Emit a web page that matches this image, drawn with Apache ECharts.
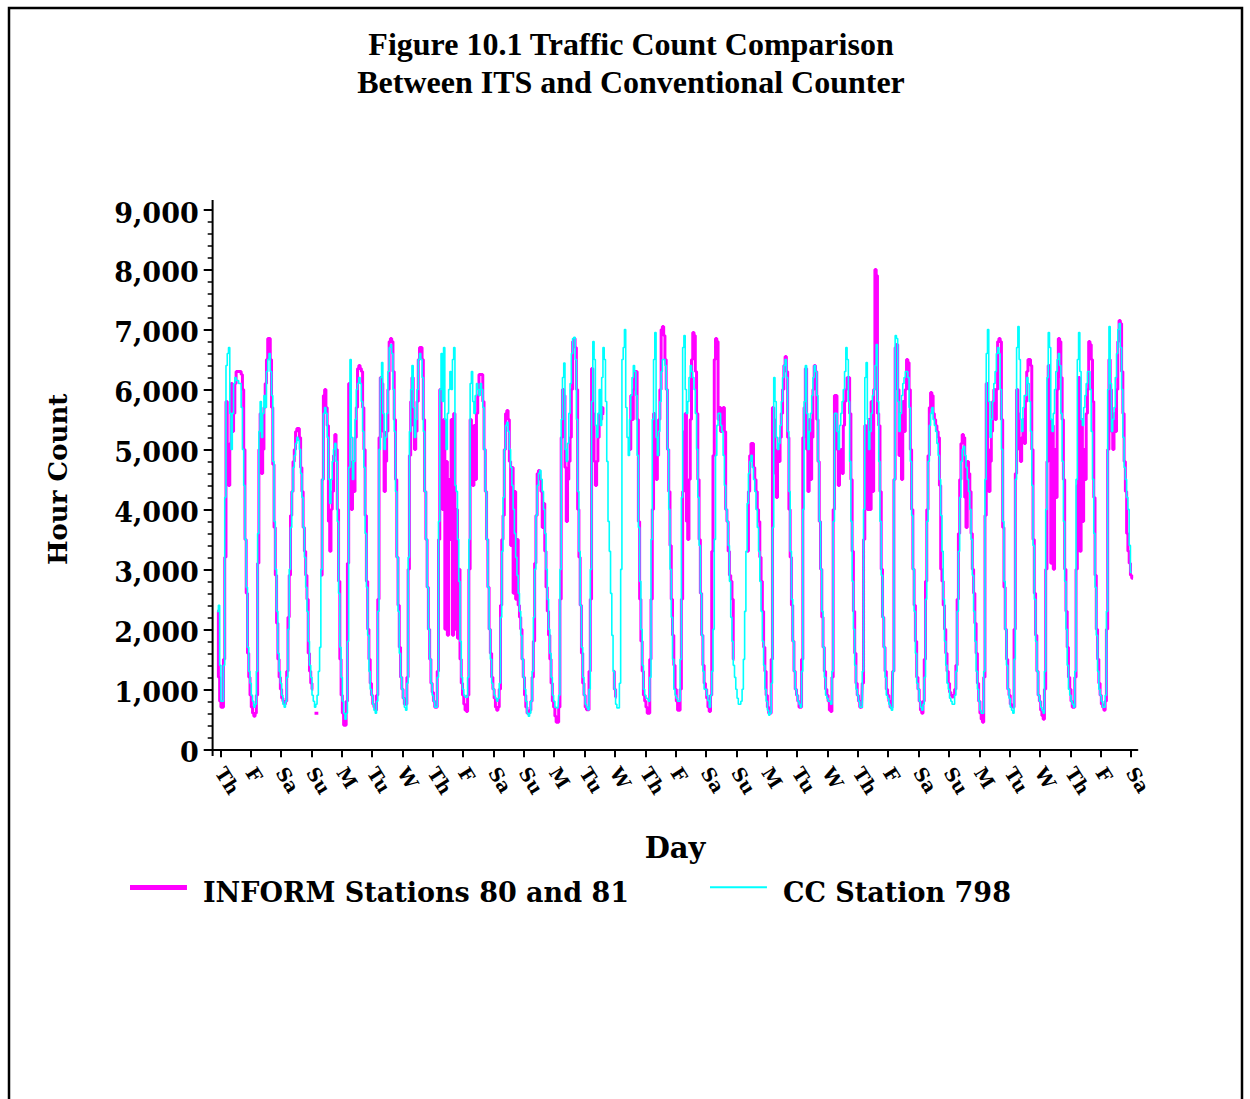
<!DOCTYPE html>
<html>
<head>
<meta charset="utf-8">
<script src="https://cdn.jsdelivr.net/npm/echarts@6/dist/echarts.min.js"></script>
<style>
  html, body { margin: 0; padding: 0; background: #ffffff; }
  #chart { width: 1250px; height: 1099px; }
</style>
</head>
<body>
<div id="chart"></div>
<script>
// Day-of-week labels at each midnight tick (30 days + closing Saturday)
const dayLabels = ['Th','F','Sa','Su','M','Tu','W','Th','F','Sa','Su','M','Tu','W',
                   'Th','F','Sa','Su','M','Tu','W','Th','F','Sa','Su','M','Tu','W','Th','F','Sa'];

// Axis begins 6 hours before the first midnight; the counts begin 2 hours before it
const leadHours = 6;
const leadInform = [2300, 1200];
const leadCC = [2300, 2400];

// Hourly counts, one row of 24 hours per day — INFORM Stations 80 and 81
const informByDay = [
  [800,700,700,1500,3200,5800,4800,4400,5100,6100,5300,5600,6100,6300,6300,6300,6300,6250,6000,5000,3500,2600,1600,1200],
  [900,700,600,550,600,900,3100,5000,5600,4600,5000,5700,6100,6500,6850,6850,6500,5700,4750,3700,2900,2100,1500,1200],
  [1000,850,800,750,800,1300,2200,2900,3900,4300,4800,5000,5300,5350,5350,5200,4700,4300,3700,3300,2900,2500,1600,1300],
  [1100,1000,null,600,600,600,null,null,2900,4500,5900,6000,5700,5400,3800,3300,4000,4300,4900,5250,5000,4000,2800,1500],
  [900,600,400,400,800,3100,6100,4500,4000,4800,4300,5200,5700,6350,6400,6350,6300,5700,5000,3900,2800,2000,1500,1100],
  [900,750,700,650,900,2500,5200,6200,6100,5300,4300,4800,5300,6000,6800,6850,6800,6300,5500,4500,3200,2400,1700,1200],
  [1000,850,750,750,1200,3000,4900,5800,6200,5400,5000,5300,5800,6500,6700,6700,6500,5500,4300,3500,2700,2000,1500,1100],
  [950,800,700,700,1300,3500,6000,5000,4000,5500,2000,4800,1900,4500,3500,5500,1900,5600,2000,4000,1850,3000,1500,1100],
  [900,750,650,630,900,3000,5500,5000,4400,5400,4500,5600,5900,6250,6250,6250,5800,5000,4300,3500,2700,2000,1600,1200],
  [1000,850,700,650,700,1000,2400,3500,3900,5000,5600,5650,5500,4800,3400,4700,2600,4300,2500,3500,2400,2200,2000,1500],
  [1200,900,700,600,600,650,800,1200,1800,3100,3900,4600,4650,4500,4300,3700,4100,3300,2700,2300,1900,1500,1100,800],
  [700,550,450,450,700,2500,5200,6000,5900,4700,3800,4500,4800,5200,6000,6800,6850,6700,6000,4000,3200,2400,1600,1100],
  [900,700,660,660,1300,2500,6350,5600,4800,4400,4800,5200,5600,5500,5700,5600,null,null,null,null,null,null,null,1300],
  [1000,870,null,null,null,null,null,null,null,null,null,null,5000,5900,5500,6000,6300,6300,5500,3800,2500,1800,1300,900],
  [800,700,600,600,1500,2500,4000,5600,5200,4500,4900,5500,6000,7000,7050,6900,6500,6000,5000,4300,3400,2500,1900,1400],
  [1000,800,650,650,1000,2500,4300,5300,5600,3800,3500,4500,5500,6500,6950,6900,6300,5600,4500,3500,2600,1900,1400,1100],
  [1000,850,700,630,900,3300,4900,6500,6850,6800,5500,5700,5300,5600,5700,5300,4000,3800,3300,2900,2800,2500,1500,null],
  [null,null,null,null,null,null,null,null,null,3300,4300,4900,5100,5100,4700,4500,4300,4000,3800,3200,2800,2300,1700,1300],
  [900,700,600,600,1500,5700,5500,4600,4200,5000,4800,5200,5600,6000,6400,6550,6300,5200,4000,3200,2400,1800,1300,1000],
  [900,800,700,700,1500,5200,5700,6350,5000,4300,5500,4500,5200,6000,6400,6300,5500,4800,3800,3000,2200,1700,1300,1000],
  [900,800,650,630,1200,4000,5900,5900,5000,4400,4800,5000,4600,5400,5800,6000,6200,6200,5600,4500,3300,2300,1600,1100],
  [900,800,700,690,1100,3500,5400,5000,4000,5500,4000,5800,4300,6000,8000,7900,5600,5400,4300,3000,2200,1700,1300,1000],
  [900,800,700,690,1300,4500,6700,6750,6000,4900,5600,4500,5800,5300,6000,6500,6450,6000,5000,4000,3000,2400,1800,1200],
  [1000,800,650,600,800,1500,2800,4000,4900,5700,5950,5900,5600,5500,5400,5300,5200,4400,3000,2800,2400,2000,1600,1300],
  [1100,950,900,870,900,1000,1400,2500,3600,4500,5100,5250,5200,4200,3700,4800,4600,4300,3600,3000,2600,2100,1600,1100],
  [800,600,500,450,1200,3900,6100,5000,4300,4800,5300,5800,6000,5500,6000,6800,6850,6800,5500,3700,2700,2000,1500,1000],
  [900,750,720,700,2000,4600,6000,5600,5000,4800,5200,5500,5100,5800,6300,6500,6500,6400,5000,3500,2600,1900,1300,900],
  [800,650,560,500,1000,3000,4800,6400,5500,3100,5400,3000,5000,4200,6000,6850,6800,6200,5500,4500,3000,2300,1700,1200],
  [1000,800,700,700,1200,3000,4400,6200,3300,5500,3800,5000,4500,5600,6000,6800,6750,6500,5800,4200,2900,2000,1500,1100],
  [900,750,700,650,800,2000,5000,6500,6000,5300,5000,5600,5300,6000,6800,7150,7100,6300,5600,4800,4300,3600,3300,3100]
];

// Hourly counts, one row of 24 hours per day — CC Station 798
const ccByDay = [
  [1400,800,800,1400,4200,6400,6600,6700,5600,5000,5600,6100,6200,6150,6150,6100,6100,5700,5000,4400,3500,2700,1700,1300],
  [1100,900,800,700,750,1300,3600,5300,5800,5200,5600,5900,5700,6300,6500,6600,6300,5900,4800,3800,3000,2300,1600,1300],
  [1100,900,750,700,800,1200,2000,3000,3700,4300,4700,4900,5100,5200,5150,5000,4600,4200,3700,3200,2700,2300,1800,1400],
  [1200,900,800,700,750,900,1300,1700,3000,4500,5600,5700,5600,5200,4500,4100,4500,4800,5000,5100,4800,3800,2600,1700],
  [1200,800,600,500,600,1800,4700,6500,5200,4500,4800,5500,6000,6100,6200,6100,5800,5300,4700,3600,2700,1900,1300,1000],
  [900,750,650,600,800,2300,5000,6200,6450,5600,5000,5200,5600,6300,6700,6750,6600,6000,5300,4300,3200,2300,1600,1200],
  [1000,850,700,650,1100,3200,5300,6000,6400,5700,5200,5500,6000,6500,6600,6500,6200,5300,4300,3500,2700,2000,1500,1100],
  [900,800,700,700,1200,3800,6000,6600,5800,6700,5500,5000,5600,6000,6300,6000,6500,6700,4400,4300,3500,2800,1800,1200],
  [1000,900,870,870,1200,3500,6100,6300,5800,5600,5900,6100,6000,5900,6100,6000,5700,5000,4300,3500,2700,2000,1500,1100],
  [1000,900,850,800,850,1100,2200,3300,4200,5000,5400,5450,5300,5000,4700,4400,4000,3600,3200,2900,2600,2300,1900,1500],
  [1200,1000,800,600,550,600,800,1300,2200,3000,3900,4400,4600,4650,4500,4300,4000,3600,3000,2500,2000,1600,1200,900],
  [800,700,690,690,900,3000,5500,6200,6440,5000,4800,5100,5600,6100,6600,6850,6870,6500,5500,4300,3300,2400,1700,1200],
  [900,750,700,660,1000,3000,5800,6800,6500,5400,5200,5600,6000,5400,6200,6700,6500,5800,4800,3800,3300,2600,1900,1300],
  [1000,750,690,690,1100,3000,6500,6700,7000,5700,5200,4900,5500,5900,6200,6400,6300,5900,4900,3700,2800,2000,1400,1000],
  [900,850,840,800,1200,3500,5500,6500,6950,5200,4900,5300,5800,6300,6500,6500,6400,6000,5000,4000,3000,2200,1500,1000],
  [900,850,800,800,1500,4200,6700,6900,6000,5600,5800,6200,6400,6300,6200,6000,5600,5000,4200,3400,2600,1900,1300,1000],
  [1000,900,810,700,900,1300,2000,3500,4900,5400,5600,5600,5400,5300,4900,4400,4000,3800,3400,2800,2200,1800,1400,1200],
  [1000,850,750,750,800,1000,1500,2300,3300,4100,4600,4800,4900,4700,4500,4300,4000,3700,3300,2800,2300,1800,1400,1000],
  [800,650,570,600,1100,3700,6200,5800,5200,5000,5100,5400,5800,6200,6400,6500,6200,5300,4300,3300,2500,1800,1300,1000],
  [900,800,750,700,1300,4000,5800,6400,5600,5000,5300,5600,5900,6200,6400,6300,5900,4800,3800,3000,2300,1700,1200,900],
  [850,800,800,750,1300,3800,5600,5600,5300,5000,5400,5600,5800,6000,6300,6700,6500,5800,4800,3800,2800,2000,1400,1000],
  [900,800,700,700,1300,4000,6200,6450,5500,5000,5300,5600,5900,6000,6400,6750,5800,4800,3800,2900,2200,1700,1200,900],
  [850,750,700,650,1300,4500,6900,6850,5800,5300,5600,5900,6100,6200,6300,6300,6200,5700,4800,3900,3000,2300,1600,1100],
  [1000,800,700,650,750,1200,2500,3800,4800,5400,5600,5700,5500,5400,5300,5100,4900,4500,3900,3300,2500,1800,1400,1100],
  [1000,850,800,750,750,900,1300,2300,3300,4200,4800,5000,5050,4900,4700,4500,4300,4000,3500,2900,2300,1800,1300,1000],
  [800,650,600,600,1300,4500,6600,7000,5800,5200,5500,5800,6100,6300,6600,6700,6600,6000,5000,3800,2800,2000,1400,1000],
  [850,700,650,600,1500,4500,6700,7050,6500,5500,5300,5700,5900,5900,6200,6100,5800,5300,4400,3400,2500,1800,1300,900],
  [800,700,650,600,1300,4000,6200,6950,6700,5500,5300,5600,6000,6300,6500,6600,6400,5600,4800,3800,2800,2000,1400,1000],
  [900,800,750,700,1300,4500,6500,6950,6300,5500,5400,5700,5900,6100,6300,6300,6000,5300,4500,3600,2700,1900,1300,1000],
  [900,800,700,700,900,2300,6000,7050,6100,5300,5500,5700,6200,6600,7000,7100,6700,6000,5200,4700,4500,4200,4000,3400]
];

// Counts recorded after the last midnight
const tailInform = [2900, 2850];
const tailCC = [2950];

const totalHours = 732; // axis length in hours

function buildSeries(lead, days, tail) {
  const out = [];
  for (let i = 0; i < leadHours - lead.length; i++) out.push(null);
  lead.forEach(v => out.push(v));
  days.forEach(row => row.forEach(v => out.push(v)));
  tail.forEach(v => out.push(v));
  while (out.length < totalHours) out.push(null);
  return out;
}

const informSeries = buildSeries(leadInform, informByDay, tailInform);
const ccSeries = buildSeries(leadCC, ccByDay, tailCC);

const hourCategories = [];
for (let i = 0; i < totalHours; i++) hourCategories.push(String(i - leadHours));

const isMidnight = (index) => index >= leadHours && (index - leadHours) % 24 === 0;

const serifBold = { fontFamily: 'DejaVu Serif', fontWeight: 'bold', color: '#000' };

// Legend swatches: a bar along the top of the key box, so it sits a little above the text's middle
const informKey = 'path://M0,0h57v5h-57zM0,14h0.01v0.01h-0.01z';
const ccKey = 'path://M0,0h57v2h-57zM0,11.5h0.01v0.01h-0.01z';

const chart = echarts.init(document.getElementById('chart'), null, { renderer: 'svg' });

chart.setOption({
  animation: false,
  backgroundColor: '#ffffff',
  graphic: [{
    // page frame
    type: 'rect',
    silent: true,
    shape: { x: 9, y: 8, width: 1233, height: 1200 },
    style: { fill: 'none', stroke: '#000', lineWidth: 2.5 }
  }, {
    // two-line heading
    type: 'text',
    silent: true,
    x: 631, y: 25,
    style: {
      text: 'Figure 10.1 Traffic Count Comparison\nBetween ITS and Conventional Counter',
      align: 'center', verticalAlign: 'top',
      fontFamily: 'Liberation Serif', fontWeight: 'bold', fontSize: 32, lineHeight: 38,
      fill: '#000'
    }
  }, {
    // vertical axis rule, running slightly past both ends of the value range
    type: 'line',
    silent: true,
    shape: { x1: 212.6, y1: 200, x2: 212.6, y2: 756 },
    style: { stroke: '#000', lineWidth: 2 }
  }],
  legend: [{
    data: [{ name: 'INFORM Stations 80 and 81', icon: informKey }],
    left: 130, top: 878.5, padding: 0,
    itemWidth: 57, itemHeight: 14,
    selectedMode: false,
    textStyle: Object.assign({ fontSize: 27, padding: [0, 0, 0, 11] }, serifBold)
  }, {
    data: [{ name: 'CC Station 798', icon: ccKey }],
    left: 710, top: 878.5, padding: 0,
    itemWidth: 57, itemHeight: 11.5,
    selectedMode: false,
    textStyle: Object.assign({ fontSize: 27, padding: [0, 0, 0, 11] }, serifBold)
  }],
  grid: { left: 212.7, right: 112.6, top: 209.5, bottom: 349.7, containLabel: false },
  xAxis: {
    type: 'category',
    data: hourCategories,
    boundaryGap: false,
    offset: 6,
    name: 'Day',
    nameLocation: 'middle',
    nameGap: 78,
    nameTextStyle: Object.assign({ fontSize: 29 }, serifBold),
    axisLine: { lineStyle: { color: '#000', width: 2 } },
    axisTick: { interval: isMidnight, length: 8, lineStyle: { color: '#000', width: 2 } },
    axisLabel: {
      interval: isMidnight,
      formatter: (value, index) => dayLabels[(index - leadHours) / 24] || '',
      rotate: -58,
      align: 'left',
      verticalAlign: 'middle',
      padding: [16, 0, 0, 0],
      margin: 13.5,
      fontSize: 19,
      fontFamily: 'DejaVu Serif', fontWeight: 'bold', color: '#000'
    },
    splitLine: { show: false }
  },
  yAxis: {
    type: 'value',
    min: 0, max: 9000, interval: 1000,
    name: 'Hour Count',
    nameLocation: 'middle',
    nameGap: 142,
    nameRotate: 90,
    nameTextStyle: Object.assign({ fontSize: 26 }, serifBold),
    axisLine: { show: false },
    axisTick: { show: true, length: 9, lineStyle: { color: '#000', width: 2 } },
    minorTick: { show: true, splitNumber: 5, length: 5, lineStyle: { color: '#000', width: 1.5 } },
    splitLine: { show: false },
    axisLabel: {
      formatter: v => v.toLocaleString('en-US'),
      margin: 14,
      verticalAlign: 'top',
      lineHeight: 7,
      fontSize: 27,
      fontFamily: 'DejaVu Serif', fontWeight: 'bold', color: '#000'
    }
  },
  series: [{
    name: 'INFORM Stations 80 and 81',
    type: 'line',
    data: informSeries,
    step: 'middle',
    symbol: 'none',
    connectNulls: false,
    itemStyle: { color: '#ff00ff' },
    lineStyle: { color: '#ff00ff', width: 3 },
    z: 2
  }, {
    name: 'CC Station 798',
    type: 'line',
    data: ccSeries,
    step: 'middle',
    symbol: 'none',
    connectNulls: false,
    itemStyle: { color: '#00ffff' },
    lineStyle: { color: '#00ffff', width: 1.6 },
    z: 3
  }]
});
</script>
</body>
</html>
